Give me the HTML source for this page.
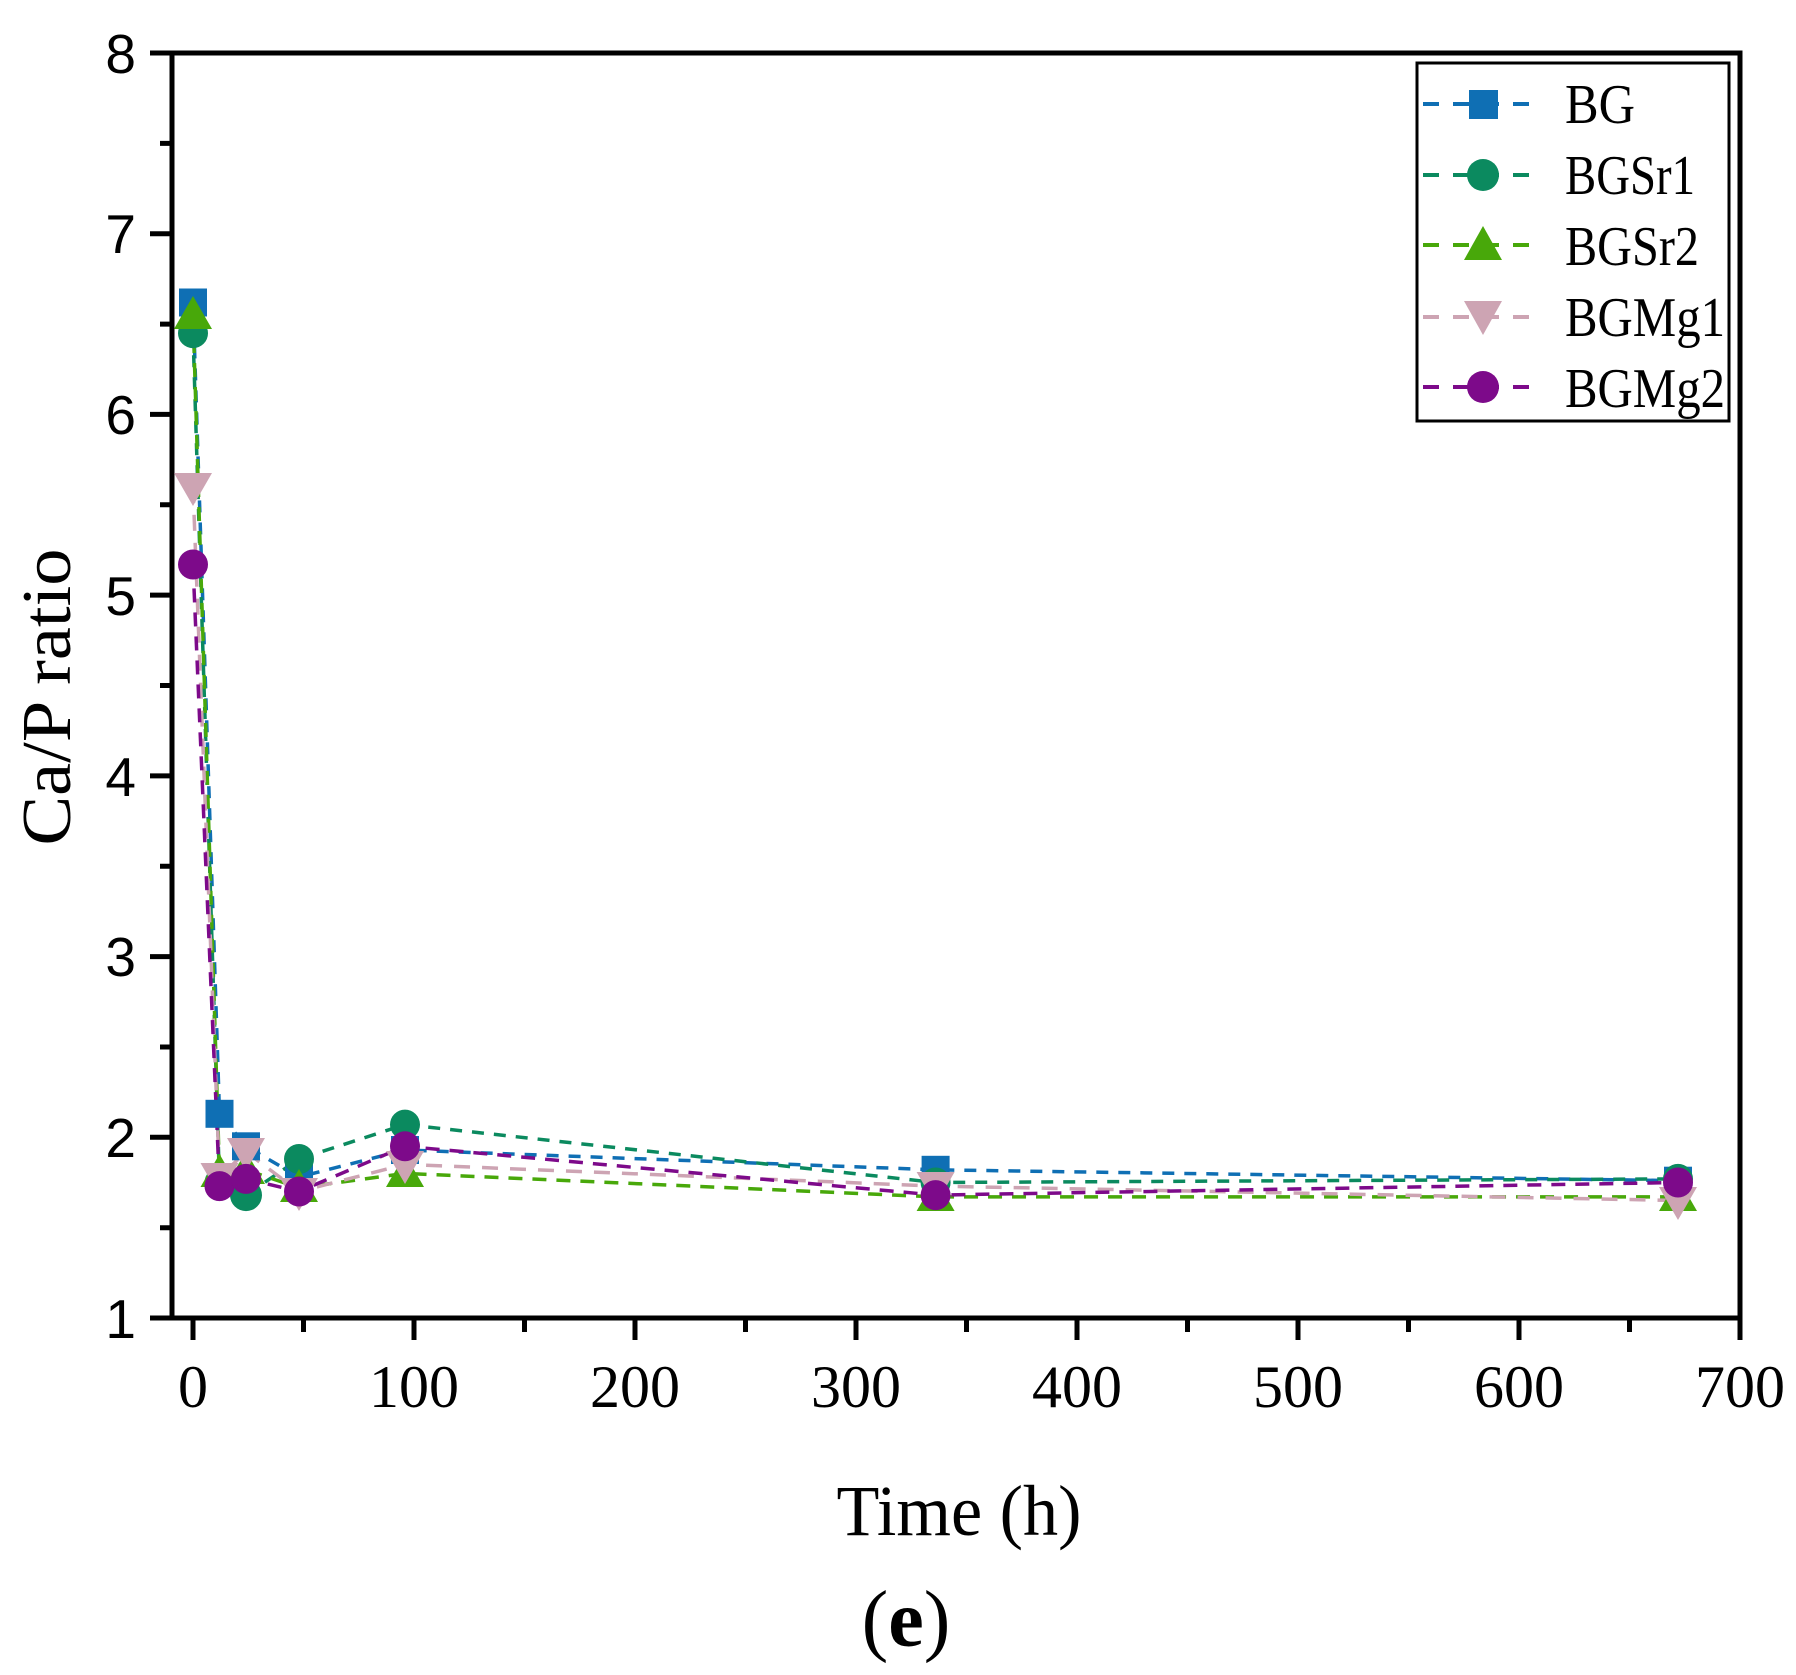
<!DOCTYPE html>
<html><head><meta charset="utf-8"><style>html,body{margin:0;padding:0;background:#fff}svg{display:block}</style></head>
<body>
<svg width="1796" height="1675" viewBox="0 0 1796 1675" xmlns="http://www.w3.org/2000/svg">
<defs>
<clipPath id="c"><rect x="172" y="53" width="1568" height="1265"/></clipPath>
</defs>
<g stroke="#000" stroke-width="5" fill="none">
<rect x="172" y="53" width="1568" height="1265"/>
<path d="M150 53H172M150 233.7H172M150 414.4H172M150 595.1H172M150 775.9H172M150 956.6H172M150 1137.3H172M150 1318H172"/>
<path d="M160 143.4H172M160 324.1H172M160 504.8H172M160 685.5H172M160 866.2H172M160 1047H172M160 1227.7H172"/>
<path d="M193 1318V1340M414 1318V1340M635 1318V1340M856 1318V1340M1077 1318V1340M1298 1318V1340M1519 1318V1340M1740 1318V1340"/>
<path d="M303.5 1318V1332M524.5 1318V1332M745.5 1318V1332M966.5 1318V1332M1187.5 1318V1332M1408.5 1318V1332M1629.5 1318V1332"/>
</g>
<g font-family="Liberation Sans, sans-serif" font-size="55" text-anchor="end" fill="#000">
<text x="136" y="73">8</text><text x="136" y="253">7</text><text x="136" y="434">6</text><text x="136" y="615">5</text><text x="136" y="796">4</text><text x="136" y="976">3</text><text x="136" y="1157">2</text><text x="136" y="1338">1</text>
</g>
<g font-family="Liberation Serif, serif" font-size="60" text-anchor="middle" fill="#000">
<text x="193" y="1407">0</text><text x="414" y="1407">100</text><text x="635" y="1407">200</text><text x="856" y="1407">300</text><text x="1077" y="1407">400</text><text x="1298" y="1407">500</text><text x="1519" y="1407">600</text><text x="1740" y="1407">700</text>
</g>
<text x="959" y="1535" font-family="Liberation Serif, serif" font-size="72" text-anchor="middle" textLength="245" lengthAdjust="spacingAndGlyphs">Time (h)</text>
<text x="906" y="1646" font-family="Liberation Serif, serif" font-size="80" text-anchor="middle">(<tspan font-weight="bold">e</tspan>)</text>
<text transform="translate(70 697) rotate(-90)" font-family="Liberation Serif, serif" font-size="70" text-anchor="middle" textLength="297" lengthAdjust="spacingAndGlyphs">Ca/P ratio</text>

<g clip-path="url(#c)" fill="none" stroke-width="3.5">
<polyline stroke="#0f6fb4" stroke-dasharray="12 10" points="193,302.5 219.5,1113.8 246,1146.3 299,1177 405,1150 935.6,1169.8 1678,1180.7"/>
<polyline stroke="#0b8a5f" stroke-dasharray="12 10" points="193,333.2 219.5,1182.5 246,1195.1 299,1159 405,1124.6 935.6,1182.5 1678,1178.9"/>
<polyline stroke="#48a80a" stroke-dasharray="14 10" points="193,315.1 219.5,1173.4 246,1169.8 299,1187.9 405,1173.4 935.6,1196.9 1678,1196.9"/>
<polyline stroke="#cda4b3" stroke-dasharray="16 12" points="193,486.8 219.5,1177 246,1151.8 299,1191.5 405,1164.4 935.6,1186.1 1678,1200.5"/>
<polyline stroke="#7d0a8a" stroke-dasharray="14 10" points="193,564.5 219.5,1186.1 246,1178.9 299,1191.5 405,1146.3 935.6,1195.1 1678,1182.5"/>
</g>
<g fill="#0f6fb4">
<rect x="179" y="288.5" width="28" height="28"/><rect x="205.5" y="1099.8" width="28" height="28"/><rect x="232" y="1132.3" width="28" height="28"/><rect x="285" y="1163" width="28" height="28"/><rect x="391" y="1136" width="28" height="28"/><rect x="921.6" y="1155.8" width="28" height="28"/><rect x="1664" y="1166.7" width="28" height="28"/>
</g>
<g fill="#0b8a5f">
<circle cx="193" cy="333.2" r="15"/><circle cx="219.5" cy="1182.5" r="15"/><circle cx="246" cy="1195.1" r="16"/><circle cx="299" cy="1159" r="15"/><circle cx="405" cy="1124.6" r="15"/><circle cx="935.6" cy="1182.5" r="15"/><circle cx="1678" cy="1178.9" r="15"/>
</g>
<g fill="#48a80a">
<path d="M193 296l19 33h-38z"/><path d="M219.5 1154l19 33h-38z"/><path d="M246 1151l19 33h-38z"/><path d="M299 1169l19 33h-38z"/><path d="M405 1154l19 33h-38z"/><path d="M935.6 1178l19 33h-38z"/><path d="M1678 1178l19 33h-38z"/>
</g>
<g fill="#cda4b3">
<path d="M193 506l19-33h-38z"/><path d="M219.5 1196l19-33h-38z"/><path d="M246 1171l19-33h-38z"/><path d="M299 1211l19-33h-38z"/><path d="M405 1184l19-33h-38z"/><path d="M935.6 1205l19-33h-38z"/><path d="M1678 1220l19-33h-38z"/>
</g>
<g fill="#7d0a8a">
<circle cx="193" cy="564.5" r="15"/><circle cx="219.5" cy="1186.1" r="15"/><circle cx="246" cy="1178.9" r="15"/><circle cx="299" cy="1191.5" r="15"/><circle cx="405" cy="1146.3" r="15"/><circle cx="935.6" cy="1195.1" r="15"/><circle cx="1678" cy="1182.5" r="15"/>
</g>
<g transform="translate(-7 0)">
<rect x="1424" y="63" width="312" height="358" fill="#fff" stroke="#000" stroke-width="3"/>
<g stroke-width="4" stroke-dasharray="16 14" fill="none">
<path d="M1430 104H1550" stroke="#0f6fb4"/><path d="M1430 175H1550" stroke="#0b8a5f"/><path d="M1430 245H1550" stroke="#48a80a"/><path d="M1430 317H1550" stroke="#cda4b3"/><path d="M1430 387H1550" stroke="#7d0a8a"/>
</g>
<rect x="1476" y="90" width="29" height="29" fill="#0f6fb4"/>
<circle cx="1490" cy="175" r="16" fill="#0b8a5f"/>
<path d="M1490 226l19 34h-38z" fill="#48a80a"/>
<path d="M1490 335l19-34h-38z" fill="#cda4b3"/>
<circle cx="1490" cy="387" r="16" fill="#7d0a8a"/>
<g font-family="Liberation Serif, serif" font-size="56" fill="#000">
<text x="1572" y="123" textLength="70" lengthAdjust="spacingAndGlyphs">BG</text><text x="1572" y="194" textLength="130" lengthAdjust="spacingAndGlyphs">BGSr1</text><text x="1572" y="265" textLength="134" lengthAdjust="spacingAndGlyphs">BGSr2</text><text x="1572" y="336" textLength="160" lengthAdjust="spacingAndGlyphs">BGMg1</text><text x="1572" y="407" textLength="160" lengthAdjust="spacingAndGlyphs">BGMg2</text>
</g>
</g>
</svg>
</body></html>
